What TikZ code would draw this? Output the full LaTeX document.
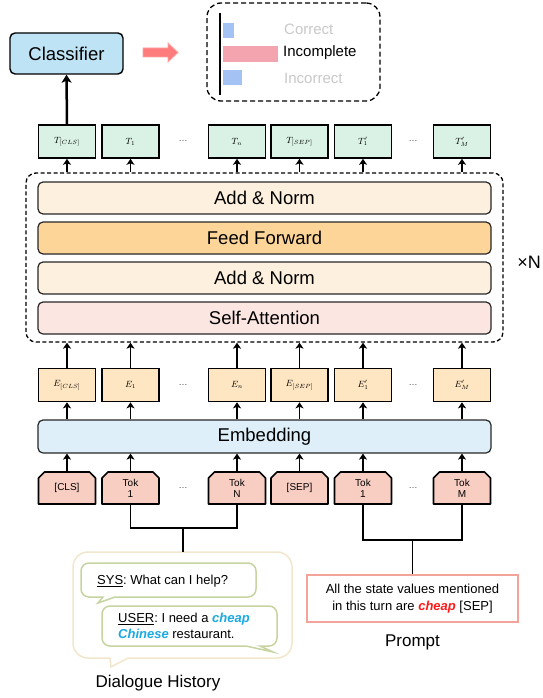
\documentclass[tikz,border=0pt]{standalone}
\usepackage{fontspec}
\setmainfont{Liberation Sans}
\usetikzlibrary{arrows.meta}
\definecolor{clsblue}{HTML}{BDE3F5}
\definecolor{tgreen}{HTML}{DAF2E6}
\definecolor{epeach}{HTML}{FFE6C2}
\definecolor{tokpink}{HTML}{F8CEC3}
\definecolor{addnormc}{HTML}{FEF0DE}
\definecolor{ffc}{HTML}{FED598}
\definecolor{sattc}{HTML}{FBE6E2}
\definecolor{embblue}{HTML}{DEEFF9}
\definecolor{barblue}{HTML}{A4C2F4}
\definecolor{barpink}{HTML}{F4A4AF}
\definecolor{labgray}{HTML}{C8C8C8}
\definecolor{cyanword}{HTML}{1BA9E3}
\definecolor{redword}{HTML}{FF1A1A}
\definecolor{promptb}{HTML}{F4A39A}
\definecolor{bubgreen}{HTML}{C6D4A1}
\definecolor{bubbeige}{HTML}{F2E7CC}
\definecolor{redarrow}{HTML}{FF7C7C}
\definecolor{redarrowb}{HTML}{FFA3A3}
\definecolor{dotgray}{HTML}{444444}
\newcommand{\fs}[1]{\fontsize{#1}{#1}\selectfont}
\begin{document}
\begin{tikzpicture}[x=1pt,y=-1pt,
  arr/.style={-{Stealth[length=6pt,width=8pt,inset=1.5pt]}, line width=1.5pt},
  bigarr/.style={-{Stealth[length=8pt,width=10pt,inset=2pt]}, line width=2.5pt},
  conn/.style={line width=1.5pt},
  smallbox/.style={draw, line width=1.6pt, minimum width=57pt, minimum height=33pt, inner sep=0pt, font=\fs{9}},
  tbox/.style={smallbox, fill=tgreen},
  ebox/.style={smallbox, fill=epeach},
  tokbox/.style={minimum width=57pt, minimum height=32pt, inner sep=0pt, align=center, font=\fontsize{10}{11}\selectfont},
  tokshape/.style={draw, fill=tokpink, line width=1.6pt, line join=round},
  layer/.style={draw=black!85, line width=1.2pt, rounded corners=5pt, minimum width=453pt, minimum height=32pt, inner sep=0pt, font=\fs{18.5}},
  dotlbl/.style={text=dotgray, font=\fs{9}},
  reslbl/.style={anchor=west, font=\fs{15}, inner sep=0pt},
]
\useasboundingbox (0,0) rectangle (542,698);

% Classifier and result panel
\node[draw, line width=1.4pt, fill=clsblue, rounded corners=5pt, minimum width=113pt, minimum height=41pt, inner sep=0pt, font=\fs{18.5}] (cls) at (66.5,53.5) {Classifier};
\filldraw[fill=redarrow, draw=redarrowb, line width=0.8pt] (143,48) -- (168,48) -- (168,43) -- (178,52.5) -- (168,62) -- (168,57) -- (143,57) -- cycle;
\node[draw, dashed, dash pattern=on 5pt off 3pt, line width=1.3pt, rounded corners=14pt, minimum width=173pt, minimum height=98pt] (res) at (293.5,52) {};
\draw[line width=1.5pt] (220,13) -- (220,95);
\fill[barblue] (223,23) rectangle (234,38);
\fill[barpink] (223,46) rectangle (278,62);
\fill[barblue] (223,70) rectangle (242,85);
\node[reslbl, text=labgray] (lc) at (284,29) {Correct};
\node[reslbl] (li) at (283,53) {Incomplete};
\node[reslbl, text=labgray] (lx) at (284,78) {Incorrect};

% Transformer block
\node[draw, dashed, dash pattern=on 4pt off 2.5pt, line width=1.3pt, rounded corners=10pt, minimum width=477pt, minimum height=169pt] (xfmr) at (264.5,257.5) {};
\node[layer, fill=addnormc] (an1) at (264.5,198) {Add \& Norm};
\node[layer, fill=ffc] (ff) at (264.5,238) {Feed Forward};
\node[layer, fill=addnormc] (an2) at (264.5,278) {Add \& Norm};
\node[layer, fill=sattc] (sa) at (264.5,318) {Self-Attention};
\node[anchor=east, inner sep=0pt, font=\fs{18}] (xn) at (541,262) {×N};

\node[layer, fill=embblue, minimum height=33pt] (emb) at (264.5,436.5) {Embedding};

% Rows of boxes
\foreach \n/\x/\tl/\el/\kl in {
  cls/67/{T_{[CLS]}}/{E_{[CLS]}}/{[CLS]},
  a/130.5/{T_1}/{E_1}/{Tok\\1},
  n/237/{T_n}/{E_n}/{Tok\\N},
  sep/299.5/{T_{[SEP]}}/{E_{[SEP]}}/{[SEP]},
  ap/363/{T'_1}/{E'_1}/{Tok\\1},
  mp/462/{T'_M}/{E'_M}/{Tok\\M}} {
  \node[tbox] (t\n) at (\x,141.5) {$\tl$};
  \node[ebox] (e\n) at (\x,385) {$\el$};
  \filldraw[tokshape] ({\x-28.5},504) -- ({\x-28.5},478) -- ({\x-22.5},472) -- ({\x+22.5},472) -- ({\x+28.5},478) -- ({\x+28.5},504) -- cycle;
  \node[tokbox] (k\n) at (\x,488) {\kl};
}
\foreach \y/\r in {141.5/t,385/e,488/k} {
  \node[dotlbl] (d1\r) at (183,\y) {\dots};
  \node[dotlbl] (d2\r) at (413,\y) {\dots};
}

% Arrows
\draw[bigarr] (tcls.north) -- (cls.south);
\foreach \n in {cls,a,n,sep,ap,mp} {
  \draw[arr] (xfmr.north -| t\n.south) -- (t\n.south);
  \draw[arr] (e\n.north) -- (e\n.north |- xfmr.south);
  \draw[arr] (emb.north -| e\n.south) -- (e\n.south);
  \draw[arr] (k\n.north) -- (k\n.north |- emb.south);
}

% Dialogue history bubble
\draw[bubbeige, fill=white, line width=1.5pt] (128,658) [rounded corners=15pt] -- (292,658) -- (292,552) -- (73,552) -- (73,658) [sharp corners] -- (110,658) -- (111,667) -- cycle;
\coordinate (dh) at (183,552);
\draw[bubgreen, fill=white, line width=1.5pt] (115,597) [rounded corners=8pt] -- (256,597) -- (256,563) -- (81,563) -- (81,597) [sharp corners] -- (103,597) -- (98,603) -- cycle;
\draw[bubgreen, fill=white, line width=1.5pt] (246,646) [rounded corners=8pt] -- (102,646) -- (102,606) -- (277,606) -- (277,646) [sharp corners] -- (260,646) -- (273,652) -- cycle;
\node[anchor=west, inner sep=0pt, font=\fs{13}] (sys) at (97,581) {\underline{SYS}:~What can I help?};
\node[anchor=west, inner sep=0pt, align=left, font=\fontsize{13}{16}\selectfont] (usr) at (118,626) {\underline{USER}:~I need a \textcolor{cyanword}{\textbf{\textit{cheap}}}\\\textcolor{cyanword}{\textbf{\textit{Chinese}}} restaurant.};
\node[font=\fs{17}] (dhl) at (158,683) {Dialogue History};

% Prompt
\node[draw=promptb, line width=1.4pt, fill=white, minimum width=211pt, minimum height=47pt, inner sep=0pt, align=center, font=\fontsize{13}{16.5}\selectfont] (prompt) at (412.5,598.5) {All the state values mentioned\\in this turn are \textcolor{redword}{\textbf{\textit{cheap}}} [SEP]};
\node[font=\fs{17}] (pl) at (412.5,642) {Prompt};

% Connectors
\coordinate (j1) at (183,528);
\coordinate (j2) at (412.5,540);
\draw[conn] (ka.south) |- (j1) -| (kn.south);
\draw[conn] (j1) -- (dh);
\draw[conn] (kap.south) |- (j2) -| (kmp.south);
\draw[conn] (j2) -- (prompt.north);
\end{tikzpicture}
\end{document}
